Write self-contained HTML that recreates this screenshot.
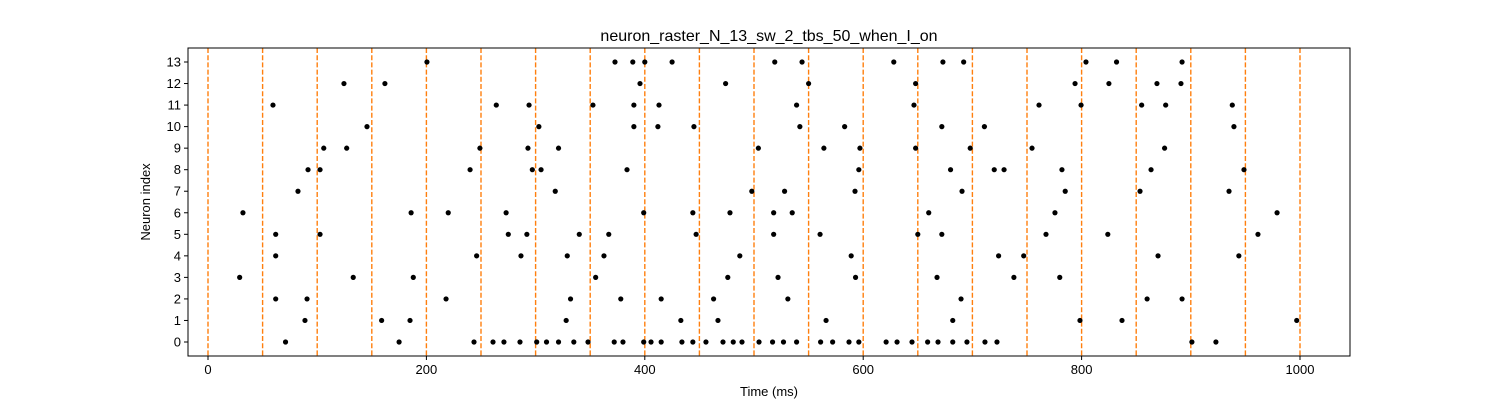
<!DOCTYPE html>
<html><head><meta charset="utf-8"><style>body{margin:0;background:#fff}svg{display:block;font-family:"Liberation Sans","DejaVu Sans",sans-serif}</style></head>
<body>
<svg id="chart" width="1500" height="400" viewBox="0 0 1500 400">
<rect width="1500" height="400" fill="#fff"/>
<text x="769" y="41" text-anchor="middle" font-size="16">neuron_raster_N_13_sw_2_tbs_50_when_I_on</text>
<text x="769" y="396" text-anchor="middle" font-size="13">Time (ms)</text>
<text transform="translate(150,202) rotate(-90)" text-anchor="middle" font-size="13">Neuron index</text>
<g id="grid"></g><g id="dots"></g><g id="axes"></g>
</svg>
<script>
const xTicks=[0,200,400,600,800,1000];
const yTicks=[0,1,2,3,4,5,6,7,8,9,10,11,12,13];
const burstLines=[0,50,100,150,200,250,300,350,400,450,500,550,600,650,700,750,800,850,900,950,1000];
const spikes0=[71,175,243.6,261,271,285.7,301,310,321,335,348,372,380,399,405.7,415,434,444,456,471.6,481,489,504.6,517,527,539,561,572,587,596,621,631,644.7,659,668.5,682,695,711.5,722.5,901,923];
const spikes1=[88.8,159,185,328,433,467,566,682,798.5,837,997];
const spikes2=[62,90.7,218,332,378,415,463,531,689.6,860,892];
const spikes3=[29,133,188,355,476,522,593,667.6,738,780];
const spikes4=[62,246,286.6,329,362.6,487,589,724,747,870,944];
const spikes5=[62,102.6,275,292,340,367,447,518,560.5,650,672,767.4,824,961.5];
const spikes6=[32,186,220,273,399,444,478,518,535,660,775.6,979];
const spikes7=[82.4,318,498,528,592.5,690.5,785,853.5,935];
const spikes8=[91.6,102.6,240,297,305,383.7,596,680,720,729,782,863.6,948.7];
const spikes9=[106,127,249,293,321,504,564,597,648,698,754.6,876];
const spikes10=[145.6,303,390,412,445,542,583,672,711,939.5];
const spikes11=[59.5,264,294,352.5,390,413,539,646.5,761,799.5,855,877,938];
const spikes12=[124.5,162,395.6,474,550,648,794,825,869,891];
const spikes13=[200.5,372.7,389,400,425,519,544,628,673,692,804,832,892];
const spikeTrains=[spikes0,spikes1,spikes2,spikes3,spikes4,spikes5,spikes6,spikes7,spikes8,spikes9,spikes10,spikes11,spikes12,spikes13];
const L=188,R=1350,T=48,B=356;
const X=v=>208+(v-0)*1.092;
const Y=n=>342-n*(280/13);
const NS='http://www.w3.org/2000/svg';
function mk(tag,attrs,parent){const e=document.createElementNS(NS,tag);for(const k in attrs)e.setAttribute(k,attrs[k]);parent.appendChild(e);return e;}
const grid=document.getElementById('grid'),dots=document.getElementById('dots'),axes=document.getElementById('axes');
burstLines.forEach(v=>{const l=mk('line',{x1:X(v),x2:X(v),y1:T,y2:B,stroke:'#ff7f0e','stroke-width':1.4,'stroke-dasharray':'5,2.2'},grid);

});
spikeTrains.forEach((arr,n)=>arr.forEach(t=>{const c=mk('circle',{cx:X(t),cy:Y(n),r:2.6,fill:'#000'},dots);

}));
const frame=mk('rect',{x:L,y:T,width:R-L,height:B-T,fill:'none',stroke:'#000','stroke-width':1},axes);


xTicks.forEach(v=>{mk('line',{x1:X(v),x2:X(v),y1:B,y2:B+4,stroke:'#000'},axes);
const t=mk('text',{x:X(v),y:B+18,'text-anchor':'middle','font-size':13},axes);t.textContent=v;

});
yTicks.forEach(v=>{mk('line',{x1:L-4,x2:L,y1:Y(v),y2:Y(v),stroke:'#000'},axes);
const t=mk('text',{x:L-7,y:Y(v)+4.5,'text-anchor':'end','font-size':13},axes);t.textContent=v;

});
</script>
</body></html>
